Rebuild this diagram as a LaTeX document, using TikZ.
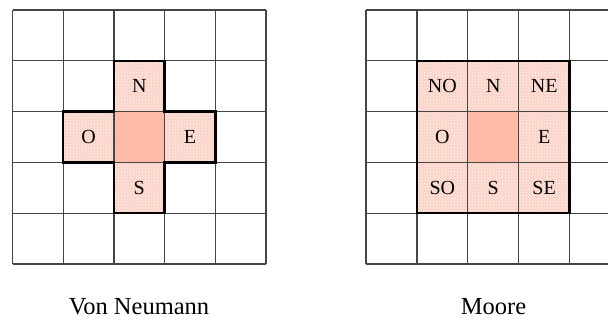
\documentclass[tikz,border=0pt]{standalone}
\usepackage{fontspec}
\setmainfont{Liberation Serif}
\usetikzlibrary{patterns}
\definecolor{gridc}{HTML}{454545}
\definecolor{nbr}{HTML}{FCD3C6}
\definecolor{ctr}{HTML}{FFBBA7}
\begin{document}
\begin{tikzpicture}[x=1pt,y=-1pt,
  gridline/.style={draw=gridc,line width=1.3pt},
  outline/.style={draw=black,line width=2.4pt,line join=miter},
  nbrcell/.style={fill=nbr,postaction={pattern=crosshatch dots,pattern color=white}},
  ctrcell/.style={fill=ctr},
  lbl/.style={font=\fontsize{20}{20}\selectfont,inner sep=0pt},
  title/.style={font=\fontsize{24.5}{26}\selectfont,inner sep=0pt,anchor=base}]
\useasboundingbox (0,0) rectangle (608,320);
\clip (0,0) rectangle (608,320);
% ---------- Von Neumann ----------
\begin{scope}[shift={(12.5,10)},x=50.7pt,y=-50.8pt]
  \foreach \i/\j in {2/1,1/2,3/2,2/3}
    \path[nbrcell] (\i,\j) rectangle ++(1,1);
  \path[ctrcell] (2,2) rectangle (3,3);
  \foreach \k in {0,...,5} {
    \draw[gridline] (\k,0) -- (\k,5);
    \draw[gridline] (0,\k) -- (5,\k);
  }
  \draw[outline] (2,1) -- (3,1) -- (3,2) -- (4,2) -- (4,3) -- (3,3) -- (3,4)
    -- (2,4) -- (2,3) -- (1,3) -- (1,2) -- (2,2) -- cycle;
  \node[lbl] (vnN) at (2.5,1.5) {N};
  \node[lbl] (vnO) at (1.5,2.5) {O};
  \node[lbl] (vnE) at (3.5,2.5) {E};
  \node[lbl] (vnS) at (2.5,3.5) {S};
\end{scope}
% ---------- Moore ----------
\begin{scope}[shift={(366,10)},x=50.9pt,y=-50.8pt]
  \foreach \i/\j in {1/1,2/1,3/1,1/2,3/2,1/3,2/3,3/3}
    \path[nbrcell] (\i,\j) rectangle ++(1,1);
  \path[ctrcell] (2,2) rectangle (3,3);
  \foreach \k in {0,...,5} {
    \draw[gridline] (\k,0) -- (\k,5);
    \draw[gridline] (0,\k) -- (5,\k);
  }
  \draw[outline] (1,1) rectangle (4,4);
  \node[lbl] (mNO) at (1.5,1.5) {NO};
  \node[lbl] (mN)  at (2.5,1.5) {N};
  \node[lbl] (mNE) at (3.5,1.5) {NE};
  \node[lbl] (mO)  at (1.5,2.5) {O};
  \node[lbl] (mE)  at (3.5,2.5) {E};
  \node[lbl] (mSO) at (1.5,3.5) {SO};
  \node[lbl] (mS)  at (2.5,3.5) {S};
  \node[lbl] (mSE) at (3.5,3.5) {SE};
\end{scope}
\node[title] (tvn) at (139,315) {Von Neumann};
\node[title] (tmo) at (493.5,315) {Moore};
\end{tikzpicture}
\end{document}
